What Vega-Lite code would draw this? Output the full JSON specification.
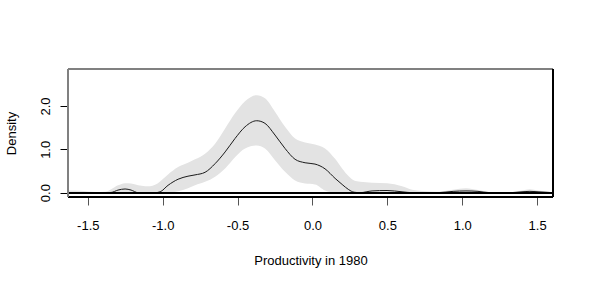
{
  "$schema": "https://vega.github.io/schema/vega-lite/v6.json",
  "width": 485,
  "height": 128,
  "autosize": {"type": "none"},
  "padding": {"left": 68, "top": 69, "right": 36, "bottom": 86},
  "background": "white",
  "data": {"values": [
    {"x": -1.631, "mean": 0, "lo": 0, "hi": 0.05},
    {"x": -1.551, "mean": 0, "lo": 0, "hi": 0.045},
    {"x": -1.451, "mean": 0, "lo": 0, "hi": 0.015},
    {"x": -1.384, "mean": 0, "lo": 0, "hi": 0.02},
    {"x": -1.344, "mean": 0.005, "lo": 0, "hi": 0.08},
    {"x": -1.298, "mean": 0.06, "lo": 0, "hi": 0.17},
    {"x": -1.251, "mean": 0.085, "lo": 0, "hi": 0.22},
    {"x": -1.211, "mean": 0.06, "lo": 0, "hi": 0.21},
    {"x": -1.164, "mean": 0, "lo": 0, "hi": 0.17},
    {"x": -1.117, "mean": 0, "lo": 0, "hi": 0.15},
    {"x": -1.084, "mean": 0, "lo": 0, "hi": 0.15},
    {"x": -1.051, "mean": 0, "lo": 0, "hi": 0.18},
    {"x": -1.017, "mean": 0.02, "lo": 0, "hi": 0.26},
    {"x": -0.964, "mean": 0.17, "lo": 0, "hi": 0.42},
    {"x": -0.897, "mean": 0.31, "lo": 0.03, "hi": 0.59},
    {"x": -0.831, "mean": 0.38, "lo": 0.1, "hi": 0.69},
    {"x": -0.784, "mean": 0.41, "lo": 0.17, "hi": 0.77},
    {"x": -0.717, "mean": 0.47, "lo": 0.25, "hi": 0.9},
    {"x": -0.65, "mean": 0.67, "lo": 0.37, "hi": 1.13},
    {"x": -0.583, "mean": 0.94, "lo": 0.56, "hi": 1.48},
    {"x": -0.517, "mean": 1.25, "lo": 0.82, "hi": 1.83},
    {"x": -0.45, "mean": 1.52, "lo": 1.02, "hi": 2.11},
    {"x": -0.372, "mean": 1.66, "lo": 1.09, "hi": 2.25},
    {"x": -0.317, "mean": 1.6, "lo": 1.02, "hi": 2.18},
    {"x": -0.25, "mean": 1.33, "lo": 0.75, "hi": 1.87},
    {"x": -0.183, "mean": 1.02, "lo": 0.48, "hi": 1.52},
    {"x": -0.116, "mean": 0.77, "lo": 0.28, "hi": 1.25},
    {"x": -0.049, "mean": 0.69, "lo": 0.21, "hi": 1.16},
    {"x": 0.017, "mean": 0.66, "lo": 0.19, "hi": 1.11},
    {"x": 0.084, "mean": 0.55, "lo": 0.05, "hi": 1.02},
    {"x": 0.151, "mean": 0.33, "lo": 0, "hi": 0.78},
    {"x": 0.198, "mean": 0.19, "lo": 0, "hi": 0.56},
    {"x": 0.242, "mean": 0.07, "lo": 0, "hi": 0.38},
    {"x": 0.278, "mean": 0.01, "lo": 0, "hi": 0.28},
    {"x": 0.318, "mean": 0, "lo": 0, "hi": 0.25},
    {"x": 0.398, "mean": 0.04, "lo": 0, "hi": 0.23},
    {"x": 0.498, "mean": 0.05, "lo": 0, "hi": 0.22},
    {"x": 0.598, "mean": 0.02, "lo": 0, "hi": 0.15},
    {"x": 0.665, "mean": 0, "lo": 0, "hi": 0.07},
    {"x": 0.732, "mean": 0, "lo": 0, "hi": 0.04},
    {"x": 0.832, "mean": 0, "lo": 0, "hi": 0.02},
    {"x": 0.939, "mean": 0.03, "lo": 0, "hi": 0.07},
    {"x": 1.025, "mean": 0.04, "lo": 0, "hi": 0.1},
    {"x": 1.105, "mean": 0.03, "lo": 0, "hi": 0.06},
    {"x": 1.185, "mean": 0, "lo": 0, "hi": 0.015},
    {"x": 1.319, "mean": 0, "lo": 0, "hi": 0.01},
    {"x": 1.399, "mean": 0.02, "lo": 0, "hi": 0.05},
    {"x": 1.452, "mean": 0.03, "lo": 0, "hi": 0.08},
    {"x": 1.506, "mean": 0.02, "lo": 0, "hi": 0.05},
    {"x": 1.606, "mean": 0, "lo": 0, "hi": 0.01}
  ]},
  "layer": [
    {
      "mark": {"type": "area", "color": "#e3e3e3", "interpolate": "monotone", "clip": true},
      "encoding": {
        "x": {"field": "x", "type": "quantitative", "title": "Productivity in 1980", "scale": {"domain": [-1.632, 1.606], "nice": false, "zero": false},
              "axis": {"values": [-1.5, -1, -0.5, 0, 0.5, 1, 1.5], "labelExpr": "replace(format(datum.value, '.1f'), '\u2212', '-')"}},
        "y": {"field": "lo", "type": "quantitative", "title": "Density", "scale": {"domain": [-0.1, 2.854], "nice": false, "zero": false},
              "axis": {"values": [0, 0.5, 1, 1.5, 2, 2.5], "labelExpr": "datum.value % 1 === 0 ? format(datum.value, '.1f') : ''"}},
        "y2": {"field": "hi"}
      }
    },
    {
      "mark": {"type": "line", "color": "#1a1a1a", "strokeWidth": 1, "interpolate": "monotone", "clip": true},
      "encoding": {
        "x": {"field": "x", "type": "quantitative", "title": "Productivity in 1980", "scale": {"domain": [-1.632, 1.606], "nice": false, "zero": false},
              "axis": {"values": [-1.5, -1, -0.5, 0, 0.5, 1, 1.5], "labelExpr": "replace(format(datum.value, '.1f'), '\u2212', '-')"}},
        "y": {"field": "mean", "type": "quantitative", "title": "Density", "scale": {"domain": [-0.1, 2.854], "nice": false, "zero": false},
              "axis": {"values": [0, 0.5, 1, 1.5, 2, 2.5], "labelExpr": "datum.value % 1 === 0 ? format(datum.value, '.1f') : ''"}}
      }
    },
    {
      "mark": {"type": "rule", "color": "#000", "strokeWidth": 1},
      "encoding": {
        "y": {"datum": 0, "type": "quantitative"}
      }
    },
    {
      "mark": {"type": "rule", "color": "#000", "strokeWidth": 1},
      "encoding": {
        "y": {"datum": -0.1, "type": "quantitative"}
      }
    },
    {
      "mark": {"type": "rule", "color": "#808080", "strokeWidth": 2},
      "encoding": {
        "y": {"datum": 2.854, "type": "quantitative"}
      }
    },
    {
      "mark": {"type": "rule", "color": "#808080", "strokeWidth": 1.5},
      "encoding": {
        "x": {"datum": -1.632, "type": "quantitative"}
      }
    },
    {
      "mark": {"type": "rule", "color": "#000", "strokeWidth": 1},
      "encoding": {
        "x": {"datum": 1.606, "type": "quantitative"}
      }
    }
  ],
  "config": {
    "view": {"stroke": null},
    "axis": {
      "labelFont": "Liberation Sans",
      "titleFont": "Liberation Sans",
      "labelFontSize": 13,
      "titleFontSize": 13,
      "labelColor": "#000",
      "titleColor": "#000",
      "titleFontWeight": "normal",
      "grid": false,
      "domain": false,
      "tickSize": 8,
      "labelFlush": false,
      "labelOverlap": false
    },
    "axisX": {
      "tickColor": "#555",
      "labelPadding": 14,
      "titleY": 67,
      "titleBaseline": "alphabetic"
    },
    "axisY": {
      "tickColor": "#000",
      "labelAngle": -90,
      "labelAlign": "center",
      "labelBaseline": "bottom",
      "labelPadding": 8,
      "titleAngle": -90,
      "titleX": -53,
      "titleY": 64,
      "titleAlign": "center",
      "titleBaseline": "alphabetic"
    }
  }
}
